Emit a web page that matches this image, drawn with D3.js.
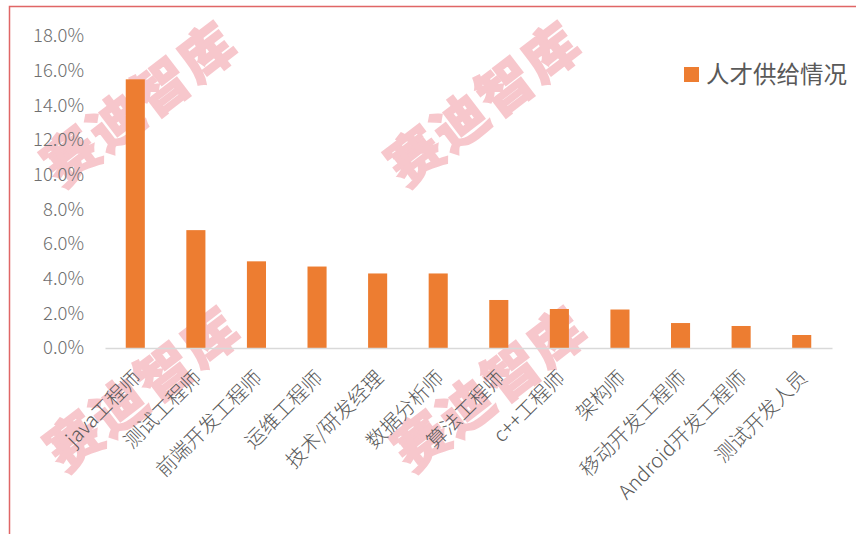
<!DOCTYPE html>
<html><head><meta charset="utf-8">
<script src="https://cdn.jsdelivr.net/npm/d3@7"></script>
<style>
html,body{margin:0;padding:0;background:#fff;}
svg{display:block;}
</style></head>
<body>
<script>
const categories = ["java工程师","测试工程师","前端开发工程师","运维工程师","技术/研发经理","数据分析师","算法工程师","c++工程师","架构师","移动开发工程师","Android开发工程师","测试开发人员"];
const supplyValues = [0.155,0.068,0.050,0.047,0.043,0.043,0.0277,0.0225,0.0222,0.0144,0.0127,0.0075];
const seriesName = "人才供给情况";
const yTicks = [0,0.02,0.04,0.06,0.08,0.10,0.12,0.14,0.16,0.18];
const watermarkText = "赛迪智库";

const W = 856, H = 534;
const svg = d3.select("body").append("svg").attr("width", W).attr("height", H);
const font = "'Noto Sans CJK SC','Noto Sans',sans-serif";

svg.append("rect").attr("width", W).attr("height", H).attr("fill", "#fff");

// watermarks (behind the chart)
const wm = svg.append("g").attr("pointer-events","none");
[[140,104],[484,104],[143,389],[490,389]].forEach(([cx,cy]) => {
  wm.append("text").attr("transform",`translate(${cx},${cy}) rotate(-37.5)`)
    .attr("text-anchor","middle").attr("dy","0.36em")
    .attr("font-family", font).attr("font-weight", 900).attr("font-size", 54)
    .attr("fill","#f29aa4").attr("stroke","#f29aa4").attr("stroke-width",1.5)
    .attr("opacity",0.55).attr("letter-spacing", 3)
    .text(watermarkText);
});

// border (left + top)
svg.append("path").attr("d", `M9.5,${H} V6.5 H${W}`).attr("fill","none").attr("stroke","#e06666").attr("stroke-width",1.5);

const x = d3.scaleBand().domain(categories).range([105, 832]).paddingInner(0.685).paddingOuter(0.3425);
const y = d3.scaleLinear().domain([0, 0.18]).range([348, 36]);

// y axis labels
const yAxis = svg.append("g").attr("transform","translate(84,0)")
  .call(d3.axisLeft(y).tickValues(yTicks).tickFormat(d3.format(".1%")).tickSize(0).tickPadding(0));
yAxis.select(".domain").remove();
yAxis.selectAll("text").attr("font-family", font).attr("font-size", 18.5).attr("fill", "#707070").attr("font-weight", 300);

// bars
svg.append("g").selectAll("rect").data(categories).join("rect")
  .attr("x", d => x(d)).attr("width", x.bandwidth())
  .attr("y", (d,i) => y(supplyValues[i])).attr("height", (d,i) => y(0) - y(supplyValues[i]))
  .attr("fill", "#ED7D31");

// x axis
const xAxis = svg.append("g").attr("transform","translate(0,348)")
  .call(d3.axisBottom(x).tickSize(0).tickPadding(0));
xAxis.select(".domain").attr("stroke","#d9d9d9").attr("stroke-width",1.5);
xAxis.selectAll("text")
  .attr("font-family", font).attr("font-size", 20).attr("fill", "#595959").attr("font-weight", 300)
  .attr("text-anchor","end").attr("dy", null).attr("y", 0)
  .attr("transform","translate(7,31) rotate(-45)");

// legend
const lg = svg.append("g").attr("transform","translate(684,67)");
lg.append("rect").attr("width",15).attr("height",15).attr("fill","#ED7D31");
lg.append("text").attr("x",22).attr("y",16).text(seriesName)
  .attr("font-family", font).attr("font-size", 23.5).attr("fill","#595959");
</script>
</body></html>
